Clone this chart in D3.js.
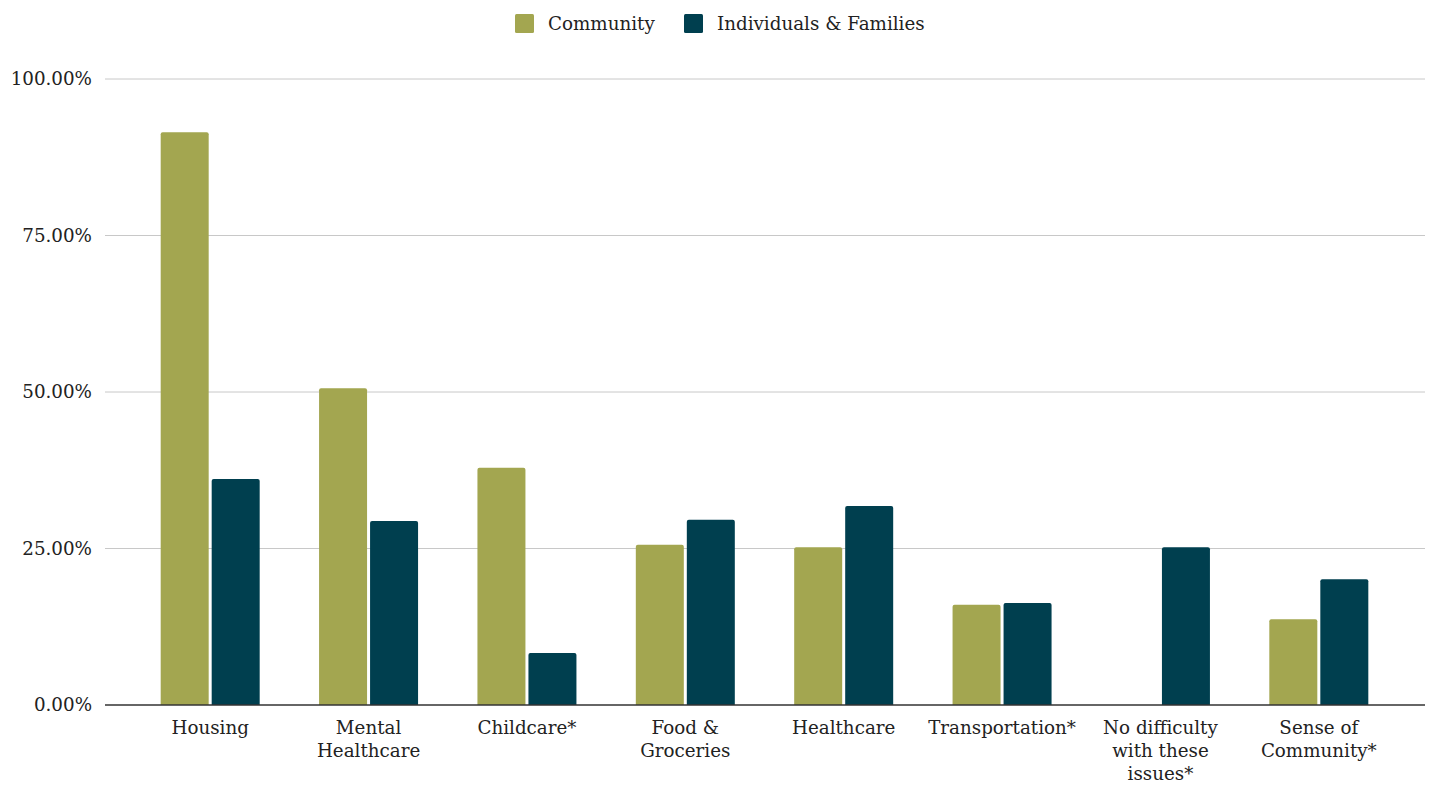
<!DOCTYPE html>
<html>
<head>
<meta charset="utf-8">
<script src="https://cdn.jsdelivr.net/npm/d3@7"></script>
<style>
  html, body { margin: 0; padding: 0; background: #fff; }
  svg text { font-family: Georgia, "DejaVu Serif", "Liberation Serif", serif; fill: #222; }
</style>
</head>
<body>
<svg id="chart" width="1432" height="786"></svg>
<script>
// Share of respondents naming each issue
const categories = [
  ["Housing"],
  ["Mental", "Healthcare"],
  ["Childcare*"],
  ["Food &", "Groceries"],
  ["Healthcare"],
  ["Transportation*"],
  ["No difficulty", "with these", "issues*"],
  ["Sense of", "Community*"]
];
const seriesNames = ["Community", "Individuals & Families"];
const communityValues = [91.5, 50.6, 37.9, 25.6, 25.2, 16.0, 0, 13.7];
const familyValues = [36.1, 29.4, 8.3, 29.6, 31.8, 16.3, 25.2, 20.1];
const tickValues = [0, 25, 50, 75, 100];
const colors = ["#a3a650", "#003f4f"];

const svg = d3.select("#chart");
const plot = { left: 105, right: 1425, top: 79, bottom: 705 };
const fontSize = 18.3;

const keys = categories.map((c, i) => i);
const x = d3.scaleBand().domain(keys).range([131, 1398]).paddingInner(0).paddingOuter(0);
const y = d3.scaleLinear().domain([0, 100]).range([plot.bottom, plot.top]);

// gridlines
svg.append("g").selectAll("line").data(tickValues.filter(t => t > 0)).join("line")
  .attr("x1", plot.left).attr("x2", plot.right)
  .attr("y1", d => y(d)).attr("y2", d => y(d))
  .attr("stroke", "#c8c8c8").attr("stroke-width", 1);

// y tick labels
svg.append("g").selectAll("text").data(tickValues).join("text")
  .attr("x", 92).attr("y", d => y(d))
  .attr("dy", "0.35em")
  .attr("text-anchor", "end")
  .attr("font-size", fontSize)
  .text(d => d.toFixed(2) + "%");

// bars
const barW = 48, gap = 3;
const series = [communityValues, familyValues];
series.forEach((vals, s) => {
  svg.append("g").selectAll("path").data(vals).join("path")
    .attr("fill", colors[s])
    .attr("d", (v, i) => {
      if (v <= 0) return null;
      const cx = x(i) + x.bandwidth() / 2;
      const x0 = s === 0 ? cx - gap / 2 - barW : cx + gap / 2;
      const y0 = y(v), y1 = y(0), r = 2;
      return `M${x0},${y1}V${y0 + r}Q${x0},${y0} ${x0 + r},${y0}H${x0 + barW - r}Q${x0 + barW},${y0} ${x0 + barW},${y0 + r}V${y1}Z`;
    });
});

// baseline
svg.append("line")
  .attr("x1", plot.left).attr("x2", plot.right)
  .attr("y1", y(0)).attr("y2", y(0))
  .attr("stroke", "#333").attr("stroke-width", 1.3);

// category labels
const lab = svg.append("g").selectAll("text").data(categories).join("text")
  .attr("x", (d, i) => x(i) + x.bandwidth() / 2)
  .attr("y", 734)
  .attr("text-anchor", "middle")
  .attr("font-size", fontSize);
lab.selectAll("tspan").data(d => d).join("tspan")
  .attr("x", function () { return d3.select(this.parentNode).attr("x"); })
  .attr("dy", (d, i) => i === 0 ? 0 : 23)
  .text(d => d);

// legend
const legend = svg.append("g");
const legendItems = [
  { name: seriesNames[0], x: 515 },
  { name: seriesNames[1], x: 684 }
];
legendItems.forEach((it, i) => {
  legend.append("rect").attr("x", it.x).attr("y", 14).attr("width", 19).attr("height", 19)
    .attr("rx", 1.5).attr("fill", colors[i]);
  legend.append("text").attr("x", it.x + 33).attr("y", 24).attr("dy", "0.35em")
    .attr("font-size", fontSize).text(it.name);
});
</script>
</body>
</html>
